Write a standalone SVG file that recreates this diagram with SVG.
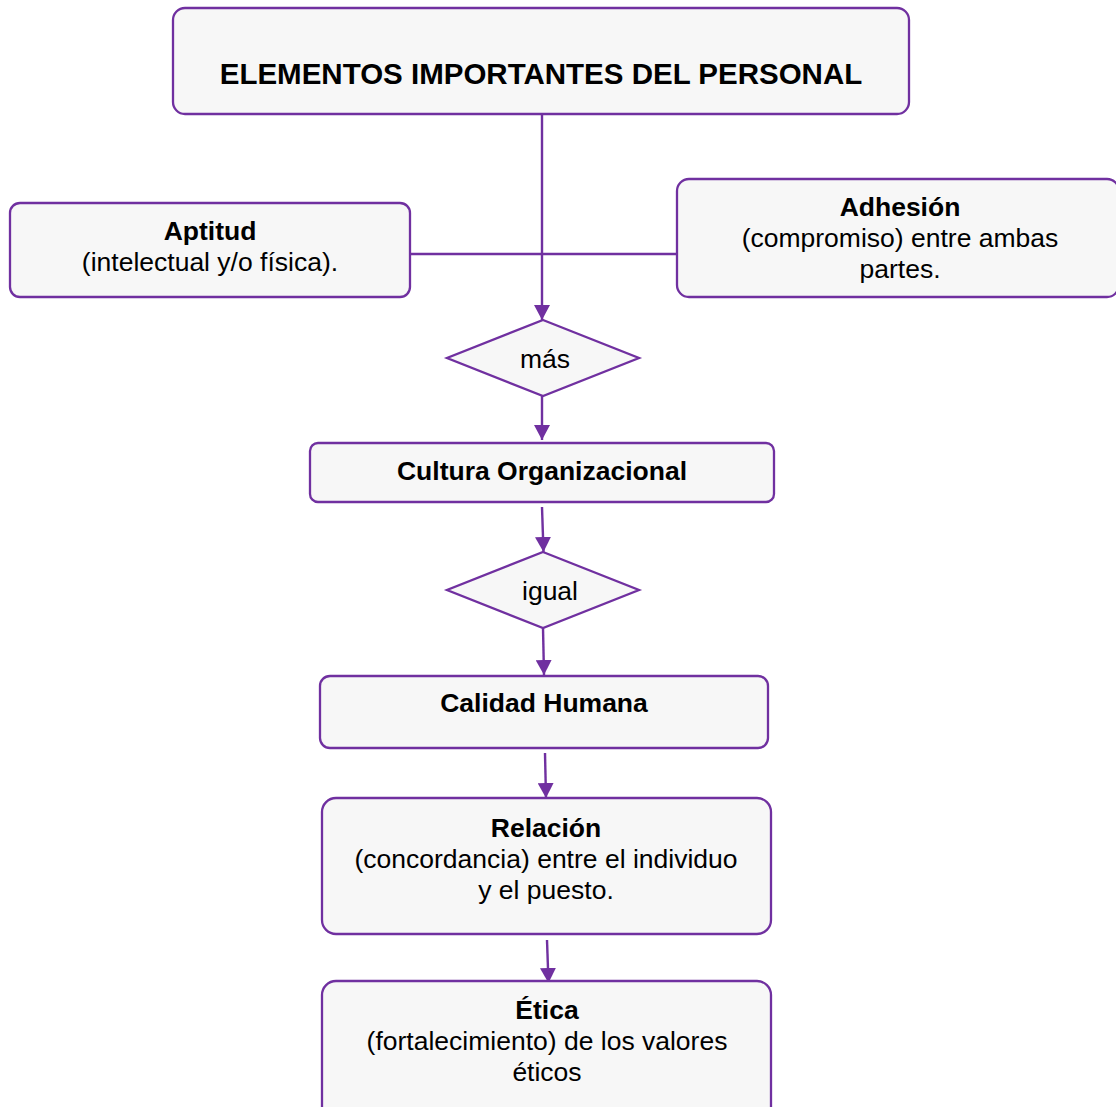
<svg xmlns="http://www.w3.org/2000/svg" width="1116" height="1107" viewBox="0 0 1116 1107">
<style>
.box{fill:#F7F7F7;stroke:#7030A0;stroke-width:2.3}
.ln{fill:none;stroke:#7030A0;stroke-width:2.4}
text{font-family:"Liberation Sans",Arial,sans-serif;font-size:26.5px;fill:#000;text-anchor:middle}
.b{font-weight:bold}
.t{font-weight:bold;font-size:29.5px}
</style>
<defs>
<marker id="ar" markerUnits="userSpaceOnUse" markerWidth="16" markerHeight="16" viewBox="0 0 16 16" refX="15" refY="8" orient="auto">
<path d="M0,0 L15,8 L0,16 Z" fill="#7030A0"/>
</marker>
</defs>
<g id="connectors">
<line class="ln" x1="542" y1="114" x2="542" y2="320" marker-end="url(#ar)"/>
<line class="ln" x1="410" y1="254" x2="677" y2="254"/>
<line class="ln" x1="542" y1="396" x2="542" y2="440" marker-end="url(#ar)"/>
<line class="ln" x1="542" y1="507" x2="543.5" y2="552" marker-end="url(#ar)"/>
<line class="ln" x1="543" y1="628" x2="544" y2="675" marker-end="url(#ar)"/>
<line class="ln" x1="545" y1="753" x2="546" y2="798" marker-end="url(#ar)"/>
<line class="ln" x1="547" y1="940" x2="548.5" y2="983" marker-end="url(#ar)"/>
</g>
<g id="title">
<rect class="box" x="173" y="8" width="736" height="106" rx="12"/>
<text class="t" x="541" y="84">ELEMENTOS IMPORTANTES DEL PERSONAL</text>
</g>
<g id="aptitud">
<rect class="box" x="10" y="203" width="400" height="94" rx="10"/>
<text class="b" x="210" y="240">Aptitud</text>
<text x="210" y="271">(intelectual y/o física).</text>
</g>
<g id="adhesion">
<rect class="box" x="677" y="179" width="442" height="118" rx="12"/>
<text class="b" x="900" y="216">Adhesión</text>
<text x="900" y="247">(compromiso) entre ambas</text>
<text x="900" y="278">partes.</text>
</g>
<g id="mas">
<polygon class="box" points="543,320 639,358 543,396 447,358"/>
<text x="545" y="368">más</text>
</g>
<g id="cultura">
<rect class="box" x="310" y="443" width="464" height="59" rx="8"/>
<text class="b" x="542" y="480">Cultura Organizacional</text>
</g>
<g id="igual">
<polygon class="box" points="543,552 639,590 543,628 447,590"/>
<text x="550" y="600">igual</text>
</g>
<g id="calidad">
<rect class="box" x="320" y="676" width="448" height="72" rx="10"/>
<text class="b" x="544" y="712">Calidad Humana</text>
</g>
<g id="relacion">
<rect class="box" x="322" y="798" width="449" height="136" rx="14"/>
<text class="b" x="546" y="837">Relación</text>
<text x="546" y="868">(concordancia) entre el individuo</text>
<text x="546" y="899">y el puesto.</text>
</g>
<g id="etica">
<rect class="box" x="322" y="981" width="449" height="140" rx="14"/>
<text class="b" x="547" y="1019">Ética</text>
<text x="547" y="1050">(fortalecimiento) de los valores</text>
<text x="547" y="1081">éticos</text>
</g>
</svg>
